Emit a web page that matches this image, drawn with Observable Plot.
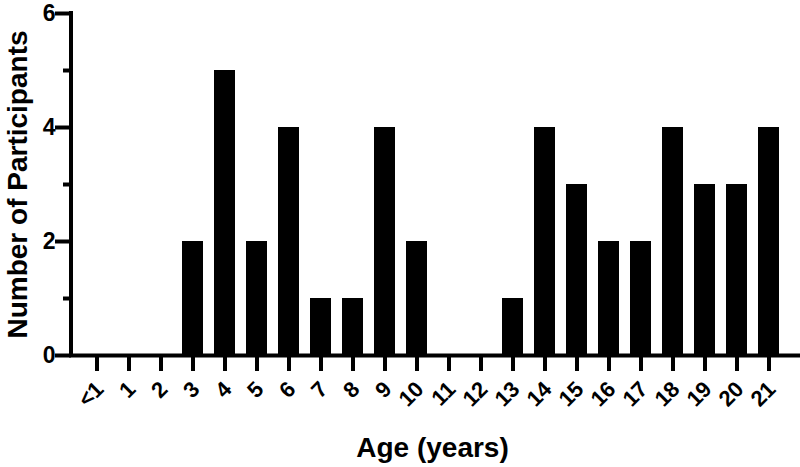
<!DOCTYPE html>
<html>
<head>
<meta charset="utf-8">
<script src="https://cdn.jsdelivr.net/npm/d3@7"></script>
<script src="https://cdn.jsdelivr.net/npm/@observablehq/plot@0.6"></script>
<style>
  html, body { margin: 0; padding: 0; background: #fff; }
  #chart svg { display: block; }
</style>
</head>
<body>
<div id="chart"></div>
<script>
const ages = ["<1","1","2","3","4","5","6","7","8","9","10","11","12","13","14","15","16","17","18","19","20","21"];
const counts = [0,0,0,2,5,2,4,1,1,4,2,0,0,1,4,3,2,2,4,3,3,4];
const majorTicks = [0,2,4,6];
const minorTicks = [1,3,5];
const xTitle = "Age (years)";
const yTitle = "Number of Participants";

const data = ages.map((a, i) => ({age: a, count: counts[i]}));
const font = "'Liberation Sans', Arial, Helvetica, sans-serif";

const W = 800, H = 467, ML = 71, MR = 7, MT = 13, MB = 112;
const FW = W - ML - MR;   // frame width
const FH = H - MT - MB;   // frame height

const chart = Plot.plot({
  width: W,
  height: H,
  marginLeft: ML,
  marginRight: MR,
  marginTop: MT,
  marginBottom: MB,
  style: {fontFamily: font, fontWeight: "bold", color: "#000", background: "#fff"},
  x: {type: "band", domain: ages, paddingInner: 0.35, paddingOuter: 0.334},
  y: {domain: [0, 6]},
  marks: [
    Plot.barY(data, {x: "age", y: "count", fill: "#000"}),
    // x axis line
    Plot.ruleY([0], {stroke: "#000", strokeWidth: 4, insetLeft: -2, insetRight: -MR}),
    // y axis line (a vertical tick at the frame's left edge)
    Plot.ruleY([0, 6], {stroke: "none"}),
    // x tick marks
    Plot.tickX(ages, {x: d => d, stroke: "#000", strokeWidth: 4, insetTop: FH, insetBottom: -16}),
    // y tick marks
    Plot.tickY(majorTicks, {y: d => d, stroke: "#000", strokeWidth: 4, insetLeft: -16, insetRight: FW}),
    Plot.tickY(minorTicks, {y: d => d, stroke: "#000", strokeWidth: 4, insetLeft: -8, insetRight: FW}),
    Plot.axisY({ticks: majorTicks, tickSize: 0, tickPadding: 16, tickFormat: d3.format("d"), fontSize: 23, fontWeight: "bold", label: null}),
    Plot.axisX({tickSize: 0, tickPadding: 30, tickRotate: -45, dx: 3, fontSize: 22, fontWeight: "bold", label: null}),
    Plot.text([yTitle], {frameAnchor: "left", rotate: -90, dx: -53, textAnchor: "middle", lineAnchor: "middle", fontSize: 28, fontWeight: "bold", fill: "#000"}),
    Plot.text([xTitle], {frameAnchor: "bottom", dy: 93, textAnchor: "middle", lineAnchor: "middle", fontSize: 28, fontWeight: "bold", fill: "#000"})
  ]
});
document.getElementById("chart").appendChild(chart);

// y axis line, placed with the plot's own y scale
const sy = chart.scale("y");
d3.select(chart).append("line")
  .attr("stroke", "#000")
  .attr("stroke-width", 4)
  .attr("x1", ML).attr("x2", ML)
  .attr("y1", sy.apply(6) - 2)
  .attr("y2", sy.apply(0) + 2);
</script>
</body>
</html>
